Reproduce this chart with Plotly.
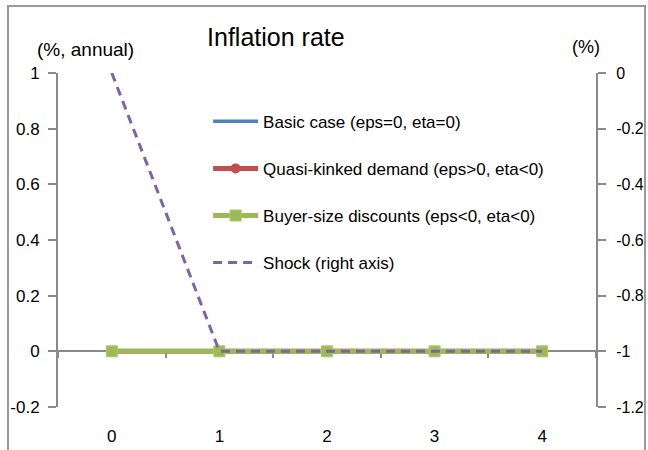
import plotly.graph_objects as go

periods = [0, 1, 2, 3, 4]
basic_case = [0, 0, 0, 0, 0]
quasi_kinked = [0, 0, 0, 0, 0]
buyer_size = [0, 0, 0, 0, 0]
shock = [0, -1, -1, -1, -1]

left_tickvals = [-0.2, 0, 0.2, 0.4, 0.6, 0.8, 1]
left_ticktext = ["-0.2", "0", "0.2", "0.4", "0.6", "0.8", "1"]
right_tickvals = [-1.2, -1, -0.8, -0.6, -0.4, -0.2, 0]
right_ticktext = ["-1.2", "-1", "-0.8", "-0.6", "-0.4", "-0.2", "0"]
x_ticktext = ["0", "1", "2", "3", "4"]
minor_ticks = [-0.5, 0.5, 1.5, 2.5, 3.5, 4.5]

names = ["Basic case (eps=0, eta=0)",
         "Quasi-kinked demand (eps>0, eta<0)",
         "Buyer-size discounts (eps<0, eta<0)",
         "Shock (right axis)"]

AX = "#8a8a8a"
FONT = "Liberation Sans, Arial, sans-serif"

fig = go.Figure()
fig.add_trace(go.Scatter(x=[None], y=[None], xaxis="x2", yaxis="y",
                         showlegend=False, hoverinfo="skip", mode="lines"))
fig.add_trace(go.Scatter(x=periods, y=basic_case, name=names[0], mode="lines",
                         line=dict(color="#4F81BD", width=3.5), legendgroup="a"))
fig.add_trace(go.Scatter(x=periods, y=quasi_kinked, name=names[1], mode="lines+markers",
                         line=dict(color="#C0504D", width=5),
                         marker=dict(symbol="circle", size=10, color="#C0504D"),
                         legendgroup="b"))
fig.add_trace(go.Scatter(x=periods, y=buyer_size, name=names[2], mode="lines+markers",
                         line=dict(color="#9BBB59", width=5),
                         marker=dict(symbol="square", size=11, color="#9BBB59",
                                     line=dict(color="#A9C76E", width=1)),
                         legendgroup="c"))
fig.add_trace(go.Scatter(x=periods, y=shock, name=names[3], mode="lines", yaxis="y2",
                         line=dict(color="#8064A2", width=3, dash="9px,6px"),
                         legendgroup="d"))

fig.update_layout(
    width=648, height=450,
    margin=dict(l=58, r=52, t=73, b=43),
    paper_bgcolor="white", plot_bgcolor="white",
    font=dict(family=FONT, size=17, color="#000000"),
    title=dict(text="Inflation rate", x=0.405, xref="paper", xanchor="center",
               y=1 - 37 / 450, yref="container", yanchor="middle",
               font=dict(size=25, family=FONT, color="#000000")),
    xaxis=dict(range=[-0.5, 4.5], tickvals=periods, ticktext=x_ticktext,
               showline=False, showgrid=False, zeroline=False, ticks="",
               ticklabelstandoff=17, tickfont=dict(size=17), automargin=False),
    xaxis2=dict(range=[-0.5, 4.5], overlaying="x", anchor="free", position=0.2 / 1.2,
                tickvals=minor_ticks, showticklabels=False, ticks="outside", ticklen=6,
                tickwidth=2, tickcolor=AX, showline=True, linecolor=AX, linewidth=2,
                showgrid=False, zeroline=False, layer="below traces", automargin=False),
    yaxis=dict(range=[-0.2, 1], tickvals=left_tickvals, ticktext=left_ticktext,
               showline=True, linecolor=AX, linewidth=2, ticks="outside", ticklen=8,
               tickwidth=2, tickcolor=AX, showgrid=False, zeroline=False,
               ticklabelstandoff=5, tickfont=dict(size=17), automargin=False),
    yaxis2=dict(range=[-1.2, 0], tickvals=right_tickvals, ticktext=right_ticktext,
                overlaying="y", side="right", showline=True, linecolor=AX, linewidth=2,
                ticks="outside", ticklen=8, tickwidth=2, tickcolor=AX, showgrid=False,
                zeroline=False, ticklabelstandoff=7, tickfont=dict(size=16),
                automargin=False),
    legend=dict(x=0.279, y=0.908, xanchor="left", yanchor="top",
                bgcolor="rgba(0,0,0,0)", font=dict(size=17, family=FONT),
                traceorder="grouped", tracegroupgap=22, itemwidth=45),
    showlegend=True,
    annotations=[
        dict(text="(%, annual)", xref="paper", yref="paper", x=0.0502, y=1.069,
             showarrow=False, xanchor="center", yanchor="middle", font=dict(size=19)),
        dict(text="(%)", xref="paper", yref="paper", x=0.981, y=1.078,
             showarrow=False, xanchor="center", yanchor="middle", font=dict(size=18)),
    ],
    shapes=[dict(type="rect", xref="paper", yref="paper",
                 x0=(8 - 58) / 538, x1=(645 - 58) / 538,
                 y0=(407 - 470) / 334, y1=(407 - 6) / 334,
                 line=dict(color="#999999", width=2), fillcolor="rgba(0,0,0,0)",
                 layer="above")],
)

fig.write_html("out.html", config={"displayModeBar": False},
               post_script="document.body.style.margin='0px';"
                           "document.body.style.overflow='hidden';")
